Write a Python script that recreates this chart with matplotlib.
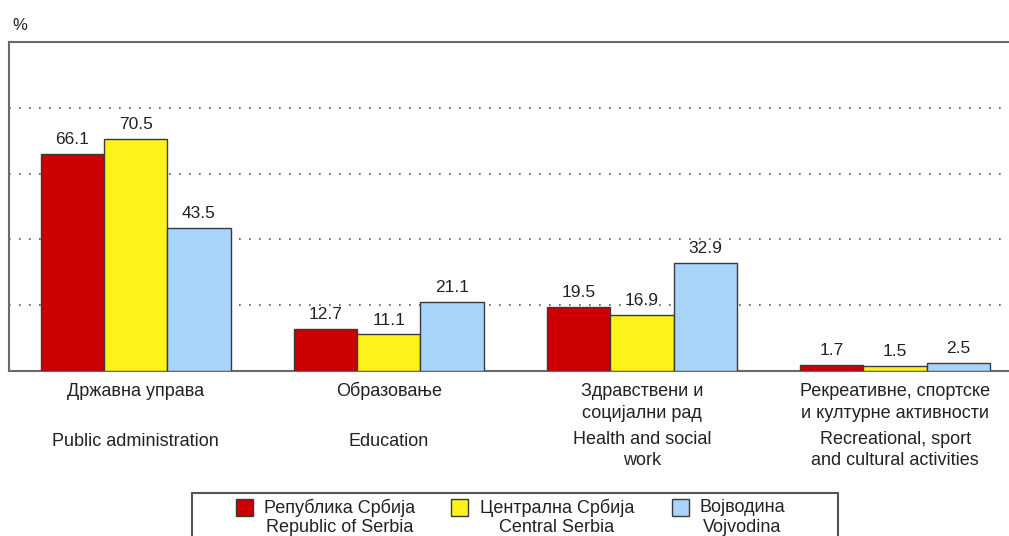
import numpy as np
import matplotlib
matplotlib.use('Agg')
import matplotlib.pyplot as plt
from matplotlib.patches import Rectangle

plt.rcParams['font.family'] = ['Liberation Sans', 'DejaVu Sans']

# data
cats_sr = ['Државна управа', 'Образовање', 'Здравствени и\nсоцијални рад',
           'Рекреативне, спортске\nи културне активности']
cats_en = ['Public administration', 'Education', 'Health and social\nwork',
           'Recreational, sport\nand cultural activities']
series = ['Република Србија\nRepublic of Serbia',
          'Централна Србија\nCentral Serbia',
          'Војводина\nVojvodina']
serbia = [66.1, 12.7, 19.5, 1.7]
central = [70.5, 11.1, 16.9, 1.5]
vojvodina = [43.5, 21.1, 32.9, 2.5]
colors = ['#cc0000', '#fff21a', '#a8d4fa']

W, H = 1009, 536
fig = plt.figure(figsize=(W / 100, H / 100), dpi=100)
ax = fig.add_axes([9 / W, 1 - 371 / H, 1 - 9 / W, 329 / H])

x = np.arange(len(cats_sr))
w = 0.25
vals = [serbia, central, vojvodina]
for i, v in enumerate(vals):
    bars = ax.bar(x + (i - 1) * w, v, w, color=colors[i], edgecolor='#3a3a3a',
                  linewidth=1, zorder=3)
    for b, val in zip(bars, v):
        ax.annotate('%.1f' % val, (b.get_x() + b.get_width() / 2, val),
                    xytext=(0, 5), textcoords='offset points',
                    ha='center', va='bottom', fontsize=12.5, color='#222222')

ax.set_xlim(-0.5, 3.45)
ax.set_ylim(0, 100)
ax.set_yticks([20, 40, 60, 80])
ax.yaxis.grid(True, linestyle=(0, (1, 5)), color='#555555', linewidth=1.2)
ax.set_axisbelow(True)
ax.tick_params(left=False, bottom=False, labelleft=False, labelbottom=False)
ax.spines['right'].set_visible(False)
for s in ['left', 'top', 'bottom']:
    ax.spines[s].set_color('#6a6a6a')
    ax.spines[s].set_linewidth(1.5)

# category labels, line by line (offsets in pixels below the baseline)
def put_lines(xi, txt, first_px, step_px):
    for k, line in enumerate(txt.split('\n')):
        ax.annotate(line, (xi, 0), xycoords=('data', 'axes fraction'),
                    xytext=(0, -(first_px + k * step_px) * 0.72),
                    textcoords='offset points', ha='center', va='center',
                    fontsize=13, color='#222222')

for i in range(len(cats_sr)):
    put_lines(x[i], cats_sr[i], 20, 23)
    n_en = len(cats_en[i].split('\n'))
    put_lines(x[i], cats_en[i], 69 if n_en > 1 else 70, 21)

fig.text(12 / W, 1 - 25 / H, '%', fontsize=12, color='#222222', ha='left', va='center')

# legend box (cut by the bottom edge like the original)
fig.patches.append(Rectangle((192 / W, -0.05), (838 - 192) / W, 0.05 + 1 - 493 / H,
                             transform=fig.transFigure, fill=False,
                             edgecolor='#555555', linewidth=1.5))
patch_x = [236, 451, 672]
text_cx = [340, 557, 742]
for i in range(3):
    fig.patches.append(Rectangle((patch_x[i] / W, 1 - 516 / H), 17 / W, 17 / H,
                                 transform=fig.transFigure, facecolor=colors[i],
                                 edgecolor='#3a3a3a', linewidth=1))
    for k, line in enumerate(series[i].split('\n')):
        fig.text(text_cx[i] / W, 1 - (508 + 20 * k) / H, line, fontsize=13,
                 color='#222222', ha='center', va='center')

fig.savefig('out.png', dpi=100)
